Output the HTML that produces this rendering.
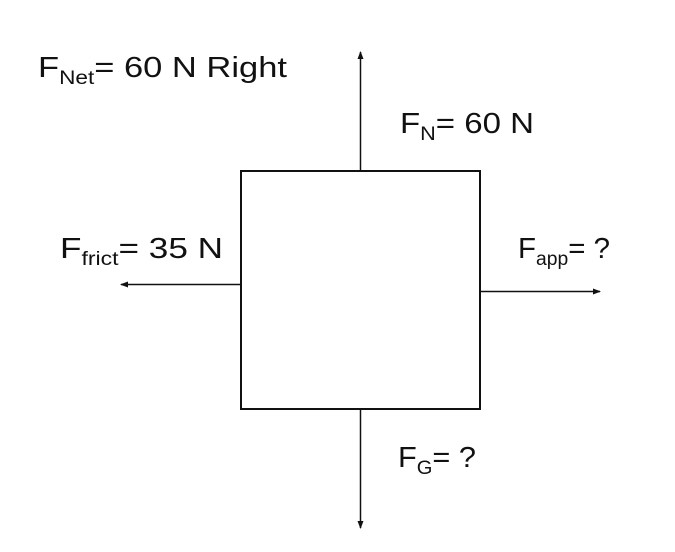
<!DOCTYPE html>
<html><head><meta charset="utf-8"><style>
html,body{margin:0;padding:0;background:#fff;}
svg{display:block;}
text{font-family:"Liberation Sans",sans-serif;fill:#111;}
</style></head><body>
<svg width="675" height="552" viewBox="0 0 675 552" xmlns="http://www.w3.org/2000/svg">
<defs>
<marker id="a" markerWidth="8" markerHeight="6" refX="7" refY="3" orient="auto" markerUnits="userSpaceOnUse">
<path d="M0,0 L8,3 L0,6 Z" fill="#111"/></marker>
</defs>
<rect x="241" y="171" width="239" height="238" fill="none" stroke="#111" stroke-width="2"/>
<line x1="360.5" y1="171" x2="360.5" y2="52" stroke="#111" stroke-width="1.5" marker-end="url(#a)"/>
<line x1="360.5" y1="409" x2="360.5" y2="528" stroke="#111" stroke-width="1.5" marker-end="url(#a)"/>
<line x1="241" y1="284.5" x2="121" y2="284.5" stroke="#111" stroke-width="1.5" marker-end="url(#a)"/>
<line x1="480" y1="291.5" x2="600" y2="291.5" stroke="#111" stroke-width="1.5" marker-end="url(#a)"/>
<text x="38" y="77" font-size="29" textLength="249" lengthAdjust="spacingAndGlyphs">F<tspan font-size="19" dy="7">Net</tspan><tspan dy="-7">= 60 N Right</tspan></text>
<text x="400" y="133" font-size="29" textLength="134" lengthAdjust="spacingAndGlyphs">F<tspan font-size="19" dy="7">N</tspan><tspan dy="-7">= 60 N</tspan></text>
<text x="60" y="258" font-size="29" textLength="163" lengthAdjust="spacingAndGlyphs">F<tspan font-size="19" dy="7">frict</tspan><tspan dy="-7">= 35 N</tspan></text>
<text x="518" y="258" font-size="29" textLength="92" lengthAdjust="spacingAndGlyphs">F<tspan font-size="19" dy="7">app</tspan><tspan dy="-7">= ?</tspan></text>
<text x="398" y="467" font-size="29" textLength="78" lengthAdjust="spacingAndGlyphs">F<tspan font-size="19" dy="7">G</tspan><tspan dy="-7">= ?</tspan></text>
</svg>
</body></html>
